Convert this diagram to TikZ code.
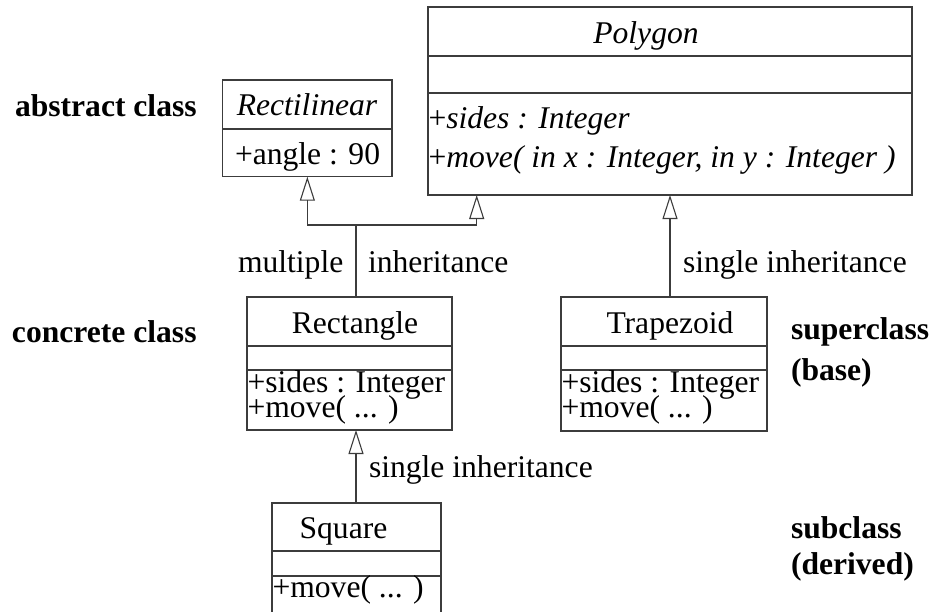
\documentclass[tikz,border=0pt]{standalone}
\usepackage{fontspec}
\setmainfont{Liberation Serif}
\usetikzlibrary{arrows.meta}
\definecolor{linegray}{RGB}{60,60,60}
\begin{document}
\begin{tikzpicture}[x=1pt,y=-1pt,
  every node/.style={inner sep=0pt, outer sep=0pt, font=\fontsize{31.6}{36}\selectfont},
  classbox/.style={draw=linegray, line width=1.1pt, anchor=north west},
  member/.style={anchor=base west},
  title/.style={anchor=base},
  note/.style={anchor=base west, font=\fontsize{31.6}{36}\selectfont\bfseries},
  edge label/.style={anchor=base west},
  divider/.style={draw=linegray, line width=1.1pt},
  inh/.style={draw=linegray, line width=1.1pt,
    -{Triangle[open, length=24pt, width=15pt, line width=1.1pt]}}]

\useasboundingbox (0,0) rectangle (934,611);
\clip (0,0) rectangle (934,611);

% ---- class boxes ----
\node[classbox, minimum width=169.3pt, minimum height=96.7pt] (rectil) at (222.7,80) {};
\node[classbox, minimum width=484pt, minimum height=188pt] (poly) at (428,7) {};
\node[classbox, minimum width=205pt, minimum height=133pt] (rect) at (247,297) {};
\node[classbox, minimum width=206pt, minimum height=134pt] (trap) at (561,297) {};
\node[classbox, minimum width=169pt, minimum height=117pt] (square) at (272,503) {};

% ---- compartment dividers ----
\draw[divider] ([yshift=-49pt]rectil.north west) -- ([yshift=-49pt]rectil.north east);
\draw[divider] ([yshift=-49pt]poly.north west) -- ([yshift=-49pt]poly.north east);
\draw[divider] ([yshift=-86pt]poly.north west) -- ([yshift=-86pt]poly.north east);
\foreach \b in {rect,trap}{
  \draw[divider] ([yshift=-49pt]\b.north west) -- ([yshift=-49pt]\b.north east);
  \draw[divider] ([yshift=-73pt]\b.north west) -- ([yshift=-73pt]\b.north east);
}
\draw[divider] ([yshift=-48pt]square.north west) -- ([yshift=-48pt]square.north east);
\draw[divider] ([yshift=-73pt]square.north west) -- ([yshift=-73pt]square.north east);

% ---- class contents ----
\node[title] (rectilname) at (307,115) {\itshape Rectilinear};
\node[member] (rectilattr) at (235,164) {+angle : 90};

\node[title] (polyname) at (646,43) {\itshape Polygon};
\node[member] (polyattr) at (428.5,128) {+\itshape sides : Integer};
\node[member] (polyop) at (428.5,167) {+\itshape move( in x : Integer, in y : Integer )};

\node[title] (rectname) at (355,333) {Rectangle};
\node[member] (rectattr) at (247.5,392) {+sides : Integer};
\node[member] (rectop) at (247.5,417) {+move( ... )};

\node[title] (trapname) at (670,333) {Trapezoid};
\node[member] (trapattr) at (561.5,392) {+sides : Integer};
\node[member] (trapop) at (561.5,417) {+move( ... )};

\node[title] (squarename) at (343.5,538) {Square};
\node[member] (squareop) at (272.5,597) {+move( ... )};

% ---- inheritance connectors ----
\coordinate (join) at (356,225);
\coordinate (polyleft) at ([xshift=48.7pt]poly.south west);
\draw[divider] (rect.north -| join) -- (join);
\draw[inh] (join) -| (rectil.south);
\draw[inh] (join) -| (polyleft);
\draw[inh] (trap.north -| poly.south) -- (poly.south);
\draw[inh] (square.north -| join) -- (rect.south -| join);

% ---- connector labels ----
\node[edge label] (lblmult) at (238,272) {multiple};
\node[edge label] (lblinh) at (368,272) {inheritance};
\node[edge label] (lbltrap) at (683,272) {single inheritance};
\node[edge label] (lblsquare) at (369,477) {single inheritance};

% ---- side notes ----
\node[note] (noteabs) at (15,116) {abstract class};
\node[note] (noteconc) at (12,342) {concrete class};
\node[note] (notesuper) at (791,339) {superclass};
\node[note] (notebase) at (791,380) {(base)};
\node[note] (notesub) at (791,538) {subclass};
\node[note] (noteder) at (791,574) {(derived)};
\end{tikzpicture}
\end{document}
